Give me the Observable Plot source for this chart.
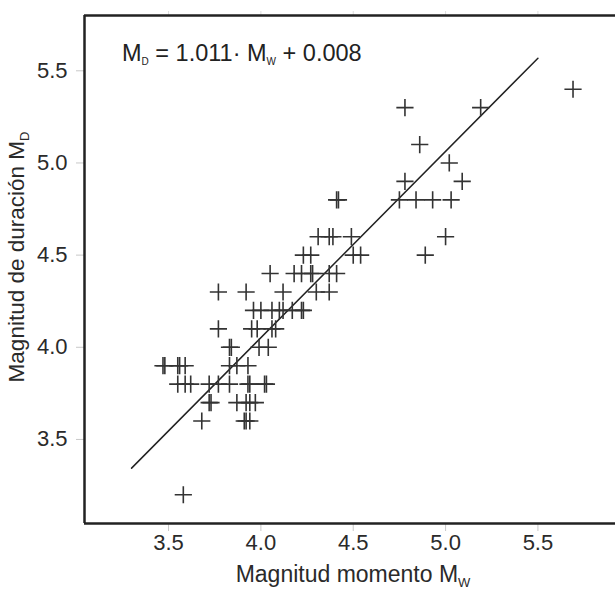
<!DOCTYPE html>
<html><head><meta charset="utf-8">
<script src="https://cdn.jsdelivr.net/npm/d3@7"></script>
<script src="https://cdn.jsdelivr.net/npm/@observablehq/plot@0.6"></script>
<style>html,body{margin:0;padding:0;background:#fff} svg{display:block}</style>
</head><body><div id="chart"></div>
<script>
// Moment magnitude (x) and duration magnitude (y) of each event
const mw = [
  3.58,
  3.68, 3.91, 3.92, 3.94,
  3.72, 3.73, 3.87, 3.92, 3.94, 3.97,
  3.55, 3.59, 3.62, 3.72, 3.77, 3.83, 3.93, 3.94, 4.02, 4.03,
  3.47, 3.48, 3.55, 3.56, 3.59, 3.83, 3.87, 3.93,
  3.83, 3.84, 3.99, 4.04,
  3.77, 3.95, 3.98, 4.06, 4.08,
  3.96, 4.00, 4.06, 4.10, 4.12, 4.17, 4.22, 4.23,
  3.77, 3.92, 4.12, 4.30, 4.37,
  4.05, 4.18, 4.22, 4.27, 4.28, 4.37, 4.41,
  4.23, 4.27, 4.50, 4.54, 4.89,
  4.31, 4.37, 4.39, 4.49, 5.00,
  4.41, 4.42, 4.75, 4.84, 4.93, 5.03,
  4.78, 5.09,
  5.02,
  4.86,
  4.78, 5.19,
  5.69
];
const md = [
  3.2,
  3.6, 3.6, 3.6, 3.6,
  3.7, 3.7, 3.7, 3.7, 3.7, 3.7,
  3.8, 3.8, 3.8, 3.8, 3.8, 3.8, 3.8, 3.8, 3.8, 3.8,
  3.9, 3.9, 3.9, 3.9, 3.9, 3.9, 3.9, 3.9,
  4.0, 4.0, 4.0, 4.0,
  4.1, 4.1, 4.1, 4.1, 4.1,
  4.2, 4.2, 4.2, 4.2, 4.2, 4.2, 4.2, 4.2,
  4.3, 4.3, 4.3, 4.3, 4.3,
  4.4, 4.4, 4.4, 4.4, 4.4, 4.4, 4.4,
  4.5, 4.5, 4.5, 4.5, 4.5,
  4.6, 4.6, 4.6, 4.6, 4.6,
  4.8, 4.8, 4.8, 4.8, 4.8, 4.8,
  4.9, 4.9,
  5.0,
  5.1,
  5.3, 5.3,
  5.4
];
const xTicks = [3.5, 4.0, 4.5, 5.0, 5.5];
const yTicks = [3.5, 4.0, 4.5, 5.0, 5.5];
const slope = 1.011;
const intercept = 0.008;
const fitRange = [3.3, 5.5];
const xDomain = [3.045, 5.92];
const yDomain = [3.044, 5.80];

const points = mw.map((x, i) => ({mw: x, md: md[i]}));
const fit = fitRange.map(x => ({mw: x, md: slope * x + intercept}));

const svg = Plot.plot({
  width: 615, height: 590,
  marginLeft: 84, marginRight: 0, marginTop: 15, marginBottom: 67,
  style: {fontFamily: "'Liberation Sans', Arial, sans-serif", fontSize: "22px", color: "#2a2a2a", background: "#fff"},
  x: {domain: xDomain},
  y: {domain: yDomain},
  marks: [
    Plot.axisX({ticks: xTicks, tickSize: 8, tickPadding: 3, stroke: "#c8c8c8", fill: "#2a2a2a", fontSize: 22, tickFormat: d3.format(".1f"), label: null}),
    Plot.axisX({anchor: "top", ticks: xTicks, tickSize: 5, stroke: "#dddddd", tickFormat: () => "", label: null}),
    Plot.axisY({ticks: yTicks, tickSize: 8, tickPadding: 9, stroke: "#c8c8c8", fill: "#2a2a2a", fontSize: 22, tickFormat: d3.format(".1f"), label: null}),
    Plot.line(fit, {x: "mw", y: "md", stroke: "#222", strokeWidth: 1.5}),
    Plot.dot(points, {x: "mw", y: "md", symbol: "plus", r: 5.6, stroke: "#333", strokeWidth: 1.6}),
    Plot.ruleX([xDomain[0]], {stroke: "#222", strokeWidth: 2.5}),
    Plot.ruleY(yDomain, {stroke: "#222", strokeWidth: 2.5})
  ]
});

const s = d3.select(svg);
// regression equation
const eq = s.append("text").attr("x", 122).attr("y", 61).attr("text-anchor", "start").attr("font-size", 23.5).attr("fill", "#222");
eq.append("tspan").text("M");
eq.append("tspan").attr("font-size", 10).attr("dy", 4).text("D");
eq.append("tspan").attr("dy", -4).text(` = ${slope.toFixed(3)}· M`);
eq.append("tspan").attr("font-size", 10).attr("dy", 4).text("W");
eq.append("tspan").attr("dy", -4).text(` + ${intercept.toFixed(3)}`);

// x axis title
const xt = s.append("text").attr("x", 353).attr("y", 582).attr("text-anchor", "middle").attr("font-size", 23).attr("fill", "#2a2a2a");
xt.append("tspan").text("Magnitud momento M");
xt.append("tspan").attr("font-size", 13).attr("dy", 5).text("W");

// y axis title
const yt = s.append("text").attr("transform", "translate(24,257) rotate(-90)").attr("text-anchor", "middle").attr("font-size", 22.5).attr("fill", "#2a2a2a");
yt.append("tspan").text("Magnitud de duración M");
yt.append("tspan").attr("font-size", 13).attr("dy", 5).text("D");

document.getElementById("chart").appendChild(svg);
</script>
</body></html>
